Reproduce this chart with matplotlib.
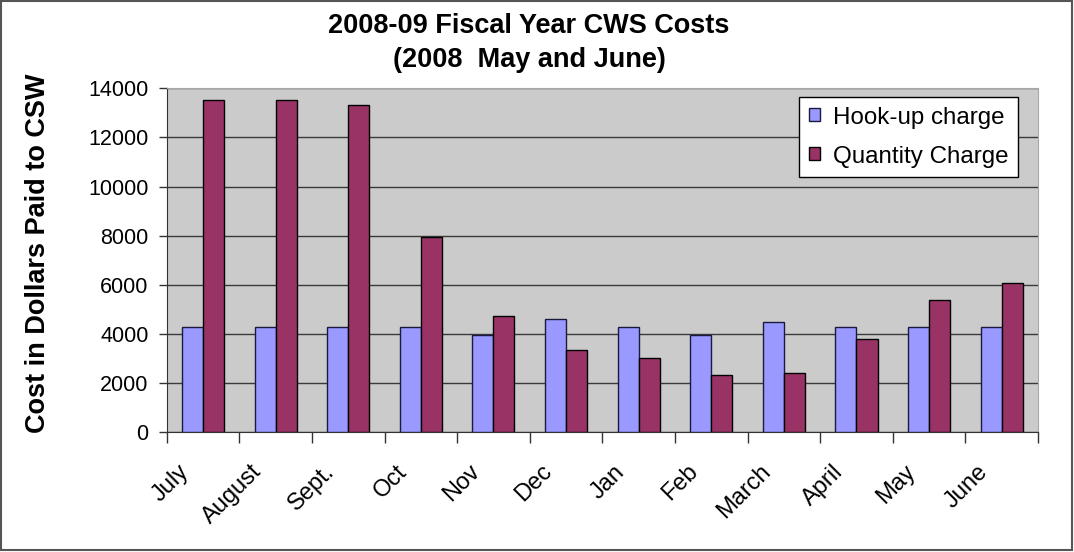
import numpy as np
import matplotlib
matplotlib.use("Agg")
import matplotlib.pyplot as plt
import matplotlib.transforms as mtransforms
from matplotlib.patches import Rectangle

plt.rcParams['font.family'] = ['Liberation Sans', 'DejaVu Sans']

# data
months = ["July", "August", "Sept.", "Oct", "Nov", "Dec", "Jan", "Feb",
          "March", "April", "May", "June"]
hookup = [4280, 4280, 4280, 4280, 3950, 4600, 4280, 3950, 4500, 4280, 4280, 4280]
quantity = [13530, 13530, 13310, 7940, 4740, 3340, 3030, 2320, 2400, 3800, 5370, 6070]

fig = plt.figure(figsize=(10.74, 5.52), dpi=100)
ax = fig.add_axes([0.1552, 0.2168, 0.8113, 0.6232])
ax.set_facecolor('#CBCBCB')

x = np.arange(len(months))
w = 0.29
ax.bar(x - w/2, hookup, w, color='#9999FF', edgecolor='#1a1a40', linewidth=1,
       label='Hook-up charge', zorder=3)
ax.bar(x + w/2, quantity, w, color='#993366', edgecolor='black', linewidth=1,
       label='Quantity Charge', zorder=3)

ax.set_xlim(-0.5, len(months) - 0.5)
ax.set_ylim(0, 14000)
ax.set_yticks(range(0, 14001, 2000))
ax.yaxis.grid(True, color='#3a3a3a', linewidth=1, zorder=1)

# ticks between categories, labels centered
ax.set_xticks(x)
ax.set_xticklabels(months, rotation=45, ha='right', va='center',
                   rotation_mode='anchor', fontsize=17)
ax.set_xticks(np.arange(-0.5, len(months)), minor=True)
ax.tick_params(axis='x', which='major', length=0, pad=26)
ax.tick_params(axis='x', which='minor', length=8, width=1, color='#333333')
ax.tick_params(axis='y', length=6, width=1, color='#333333', labelsize=15.5, pad=7)
shift = mtransforms.ScaledTranslation(-17/100, 0, fig.dpi_scale_trans)
for lab in ax.get_xticklabels():
    lab.set_transform(lab.get_transform() + shift)

for s in ['left', 'bottom']:
    ax.spines[s].set_color('#333333')
for s in ['top', 'right']:
    ax.spines[s].set_color('#a8a8a8')

leg = ax.legend(loc='upper right', bbox_to_anchor=(0.977, 0.975), borderaxespad=0,
                fontsize=17.4, frameon=True, fancybox=False, framealpha=1,
                handlelength=0.45, handleheight=0.45, handletextpad=0.55,
                borderpad=0.4, labelspacing=0.7)
leg.get_frame().set_edgecolor('black')
leg.get_frame().set_linewidth(1)

fig.text(0.4926, 0.953, "2008-09 Fiscal Year CWS Costs", ha='center', va='center',
         fontsize=19.5, fontweight='bold')
fig.text(0.4926, 0.891, "(2008  May and June)", ha='center', va='center',
         fontsize=19.5, fontweight='bold')
fig.text(0.035, 0.541, "Cost in Dollars Paid to CSW", rotation=90, ha='center',
         va='center', fontsize=19.5, fontweight='bold')

# outer frame
fig.patches.append(Rectangle((0.001, 0.004), 0.997, 0.994, transform=fig.transFigure,
                             fill=False, edgecolor='#555555', linewidth=1.5))

fig.savefig("out.png", dpi=100)
